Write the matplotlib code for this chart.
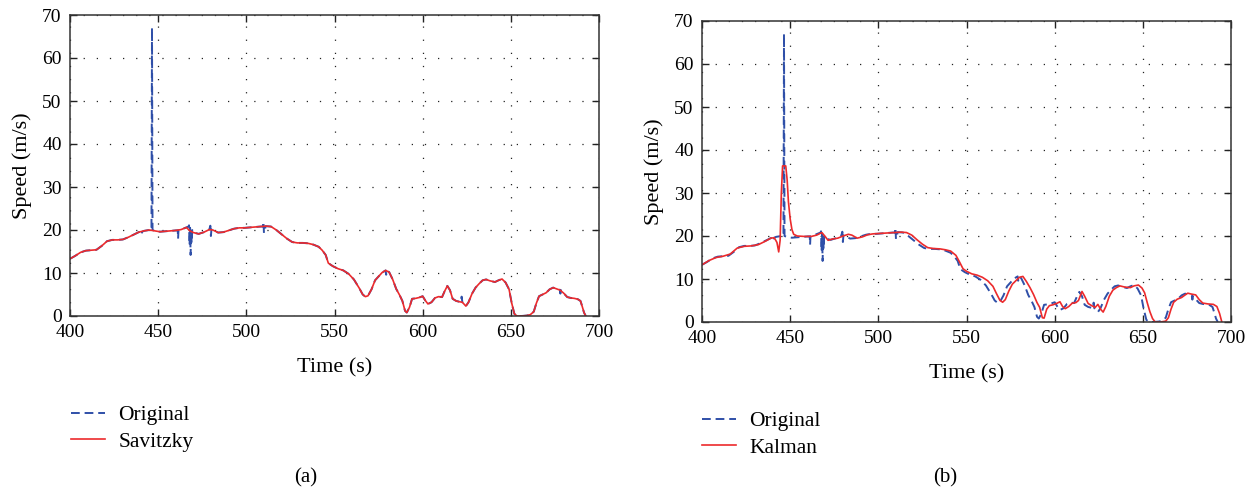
import matplotlib
matplotlib.use("Agg")
import matplotlib.pyplot as plt

plt.rcParams['font.family'] = ['Liberation Serif', 'DejaVu Serif']

# ---------------- data ----------------
t_sg = [400, 403, 406, 409, 412, 415, 418, 421, 424, 427, 430, 433, 436, 439, 442, 445,
        448, 451, 454, 457, 460, 463, 466, 468, 470, 473, 476, 479, 481, 484, 487, 490,
        493, 496, 499, 502, 505, 508, 511, 514, 517, 520, 523, 526, 529, 532, 535, 538,
        541, 543, 545, 546.5, 549, 552, 555, 558, 561, 564, 566, 567.5, 569, 571, 573,
        575, 577, 579, 581, 583, 585, 587, 588.5, 590, 591, 592.5, 594, 596, 598, 600,
        601.5, 603, 605, 607, 609, 611, 612.5, 614, 615.5, 617, 619, 621, 622.5, 624.5,
        626, 628, 630, 632, 634, 636, 638, 641, 643, 645, 647, 649, 650.5, 652, 653.5,
        656, 659, 661, 663, 664.5, 666, 668, 670, 672, 674, 676, 678, 680, 682, 684,
        686, 688, 689.5, 690.5, 691.5, 692.5]
v_sg = [13.3, 14.0, 14.8, 15.2, 15.3, 15.4, 16.3, 17.4, 17.7, 17.7, 17.8, 18.3, 18.9, 19.5, 19.8, 20.0,
        19.8, 19.6, 19.7, 19.8, 19.9, 20.1, 20.6, 19.8, 19.4, 19.1, 19.5, 20.1, 20.0, 19.4, 19.5, 19.9,
        20.3, 20.5, 20.5, 20.6, 20.7, 20.8, 20.9, 20.8, 20.0, 19.0, 18.0, 17.2, 17.0, 17.0, 16.9, 16.6,
        16.1, 15.3, 14.2, 12.3, 11.6, 11.0, 10.6, 9.8, 8.5, 6.5, 5.0, 4.5, 4.7, 6.2, 8.3,
        9.2, 10.1, 10.6, 10.2, 8.5, 6.3, 4.8, 3.5, 1.2, 0.8, 2.0, 4.0, 4.1, 4.3, 4.6,
        3.6, 2.8, 3.2, 4.2, 4.5, 4.4, 5.8, 7.0, 6.0, 4.0, 3.5, 3.3, 3.2, 2.3,
        3.2, 5.2, 6.6, 7.5, 8.3, 8.5, 8.2, 7.9, 8.3, 8.6, 7.8, 6.2, 3.0, 0.5, 0.0,
        0.0, 0.1, 0.3, 1.0, 3.0, 4.6, 5.0, 5.4, 6.2, 6.6, 6.3, 6.0, 5.3, 4.4, 4.2,
        4.1, 3.9, 3.5, 2.2, 0.8, 0.0]

t_orig = [400, 403, 406, 409, 412, 415, 418, 421, 424, 427, 430, 433, 436, 439, 440.3, 440.6, 440.9,
          442, 445, 446.2, 446.5, 446.8, 448, 451, 454, 457, 460, 461.1, 461.3, 461.5, 463, 466,
          467.2, 467.5, 467.8, 468.1, 468.4, 468.7, 469.0, 469.3, 470, 473, 476, 479, 479.6, 479.9,
          480.2, 481, 484, 487, 490, 493, 496, 499, 502, 505, 508, 509.4, 509.7, 510.0, 511, 514,
          517, 520, 523, 526, 529, 532, 535, 538, 541, 543, 545, 546.5, 549, 552, 555, 558, 561,
          564, 566, 567.5, 569, 571, 573, 575, 577, 579, 579.3, 579.6, 581, 583, 585, 587, 588.5,
          590, 591, 592.5, 594, 596, 598, 600, 601.5, 603, 605, 607, 609, 611, 612.5, 614, 615.5,
          617, 619, 621, 621.8, 622.1, 622.5, 624.5, 626, 628, 630, 632, 634, 636, 638, 641, 643,
          645, 647, 649, 650.5, 652, 653.5, 656, 659, 661, 663, 664.5, 666, 668, 670, 672, 674,
          676, 677.8, 678.1, 678.4, 680, 682, 684, 686, 688, 689.5, 690.5, 691.5, 692.5]
v_orig = [13.3, 14.0, 14.8, 15.2, 15.3, 15.4, 16.3, 17.4, 17.7, 17.7, 17.8, 18.3, 18.9, 19.5, 19.6, 19.0, 19.6,
          19.8, 20.0, 20.0, 67.0, 20.0, 19.8, 19.6, 19.7, 19.8, 19.9, 19.9, 18.0, 19.9, 20.1, 20.6,
          20.8, 21.1, 16.5, 20.5, 14.2, 19.5, 17.0, 20.0, 19.4, 19.1, 19.5, 20.1, 21.0, 18.6,
          20.1, 20.0, 19.4, 19.5, 19.9, 20.3, 20.5, 20.5, 20.6, 20.7, 20.8, 20.8, 21.9, 19.3, 20.9, 20.8,
          20.0, 19.0, 18.0, 17.2, 17.0, 17.0, 16.9, 16.6, 16.1, 15.3, 14.2, 12.3, 11.6, 11.0, 10.6, 9.8, 8.5,
          6.5, 5.0, 4.5, 4.7, 6.2, 8.3, 9.2, 10.1, 10.6, 9.6, 10.6, 10.2, 8.5, 6.3, 4.8, 3.5,
          1.2, 0.8, 2.0, 4.0, 4.1, 4.3, 4.6, 3.6, 2.8, 3.2, 4.2, 4.5, 4.4, 5.8, 7.0, 6.0,
          4.0, 3.5, 3.3, 3.3, 4.5, 3.2, 2.3, 3.2, 5.2, 6.6, 7.5, 8.3, 8.5, 8.2, 7.9, 8.3,
          8.6, 7.8, 6.2, 3.0, 0.5, 0.0, 0.0, 0.1, 0.3, 1.0, 3.0, 4.6, 5.0, 5.4, 6.2, 6.6,
          6.3, 6.1, 5.2, 6.0, 5.3, 4.4, 4.2, 4.1, 3.9, 3.5, 2.2, 0.8, 0.0]

t_kal = [400, 404, 408, 412, 416, 420, 424, 428, 432, 436, 439, 441, 442.5, 443.5, 444.3, 445,
         445.7, 447.5, 448.3, 449, 450, 451, 452, 454, 458, 462, 465, 468, 470, 471.5, 474, 477,
         480, 483, 485, 488, 491, 494, 497, 501, 505, 509, 513, 516, 519, 522, 525, 528, 531,
         535, 538, 541, 544, 546, 548, 550, 553, 556, 559, 562, 565, 567, 569, 570.5, 572, 574,
         576, 578, 580, 582, 584, 586, 588, 590, 591.5, 593, 594, 595.5, 597, 599, 601, 603,
         604.5, 606, 608, 610, 612, 613.5, 615.5, 617, 619, 621, 623, 624.5, 626, 627.5, 629,
         631, 633, 635, 637, 640, 643, 645, 647.5, 649.5, 651, 652.5, 654, 655.5, 657, 660,
         663, 664.5, 666, 667.5, 669.5, 672, 674, 675.5, 677.5, 680, 682, 684, 687, 690, 692,
         693.5, 694.8]
v_kal = [13.3, 14.3, 15.0, 15.3, 15.8, 17.2, 17.6, 17.7, 18.0, 18.8, 19.5, 19.6, 18.5, 16.3, 19.0, 30.0,
         36.3, 36.3, 33.0, 28.0, 24.0, 21.5, 20.4, 20.0, 19.9, 19.9, 20.2, 20.8, 19.8, 19.0, 19.3, 19.5,
         20.0, 20.4, 20.2, 19.5, 19.8, 20.3, 20.5, 20.6, 20.7, 20.8, 20.9, 20.8, 20.2, 19.1, 18.1, 17.3, 17.1,
         17.0, 16.8, 16.5, 15.5, 14.0, 12.4, 11.8, 11.2, 10.9, 10.4, 9.6, 8.3, 6.6, 5.0, 4.6, 5.2, 7.2,
         8.8, 9.6, 10.4, 10.6, 9.4, 8.0, 6.4, 4.5, 3.4, 1.0, 0.9, 3.0, 3.8, 4.0, 4.3, 4.7,
         3.6, 3.1, 3.6, 4.4, 4.5, 5.0, 7.1, 6.0, 4.3, 3.8, 3.4, 4.1, 3.0, 2.3, 3.6,
         6.0, 7.4, 8.0, 8.4, 8.1, 8.0, 8.4, 8.6, 7.9, 6.8, 4.5, 2.4, 0.8, 0.0, 0.0,
         0.2, 1.0, 3.0, 4.6, 5.3, 5.7, 6.3, 6.7, 6.5, 6.3, 5.2, 4.4, 4.2, 4.1, 3.6,
         2.0, 0.0]

x_ticks = [400, 450, 500, 550, 600, 650, 700]
y_ticks = [0, 10, 20, 30, 40, 50, 60, 70]
panel_labels = ['(a)', '(b)']
legend_labels = [['Original', 'Savitzky'], ['Original', 'Kalman']]

# ---------------- figure ----------------
W, H = 1259, 499
fig = plt.figure(figsize=(W / 100, H / 100), dpi=100)

blue = '#2f4fa8'
red = '#ec2a2c'

def px(x0, y0, x1, y1):
    return [x0 / W, 1 - y1 / H, (x1 - x0) / W, (y1 - y0) / H]

axA = fig.add_axes(px(70, 15, 599, 316))
axB = fig.add_axes(px(702, 21, 1231, 322))

series = [(t_sg, v_sg), (t_kal, v_kal)]
legend_pos = [(71, 405), (702, 411)]
for i, ax in enumerate([axA, axB]):
    l1, = ax.plot(t_orig, v_orig, color=blue, lw=1.4, ls=(0, (4.5, 2.5)))
    l2, = ax.plot(series[i][0], series[i][1], color=red, lw=1.2)
    ax.set_xlim(400, 700)
    ax.set_ylim(0, 70)
    ax.set_xticks(x_ticks)
    ax.set_yticks(y_ticks)
    ax.tick_params(direction='in', top=True, right=True, length=5, width=1,
                   labelsize=14, color='#222222', pad=6)
    for s in ax.spines.values():
        s.set_color('#333333')
        s.set_linewidth(1.1)
    ax.grid(True, color='#222222', lw=0.9, ls=(0, (1.0, 9.5)))
    ax.set_axisbelow(True)
    ax.set_xlabel('Time (s)', fontsize=16, labelpad=12)
    ax.set_ylabel('Speed (m/s)', fontsize=16, labelpad=7)
    lx, ly = legend_pos[i]
    ax.legend([l1, l2], legend_labels[i], loc='upper left',
              bbox_to_anchor=(lx / W, 1 - ly / H), bbox_transform=fig.transFigure,
              frameon=False, fontsize=15.5, handlelength=1.6, handletextpad=0.6,
              labelspacing=0.32, borderpad=0, borderaxespad=0)

fig.text(306 / W, 1 - 478 / H, panel_labels[0], ha='center', va='center', fontsize=15)
fig.text(945 / W, 1 - 478 / H, panel_labels[1], ha='center', va='center', fontsize=15)

fig.savefig('out.png', dpi=100)
